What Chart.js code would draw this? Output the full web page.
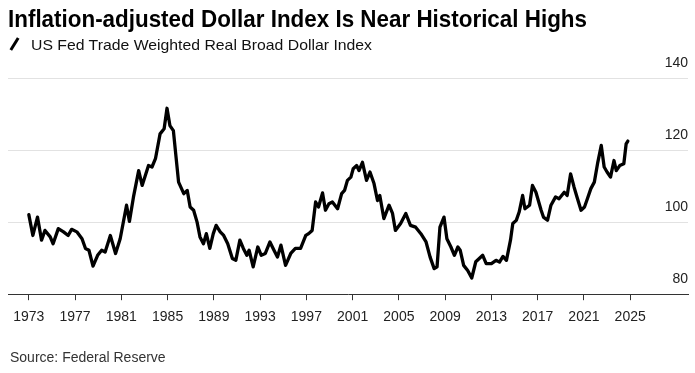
<!DOCTYPE html>
<html>
<head>
<meta charset="utf-8">
<script src="https://cdn.jsdelivr.net/npm/chart.js@4.4.1/dist/chart.umd.min.js"></script>
<style>
  body { margin: 0; background: #fff; }
  #wrap { position: relative; width: 695px; height: 373px; overflow: hidden; font-family: "Liberation Sans", Arial, sans-serif; }
  #chart { position: absolute; left: 0; top: 0; }
  .txt { position: absolute; white-space: nowrap; display: inline-block; transform-origin: 0 0; }
  #title { left: 8px; top: 6.7px; font-size: 24px; line-height: 24px; font-weight: bold; color: #000; }
  #subtitle { left: 31px; top: 37.3px; font-size: 15px; line-height: 15px; color: #111; }
  #slash { position: absolute; left: 13px; top: 37px; width: 3px; height: 14px; background: #000; transform: rotate(32deg); }
  #source { left: 10px; top: 350px; font-size: 14px; line-height: 14px; color: #333; }
</style>
</head>
<body>
<div id="wrap">
  <canvas id="chart" width="695" height="373"></canvas>
  <div id="title" class="txt">Inflation-adjusted Dollar Index Is Near Historical Highs</div>
  <div id="slash"></div>
  <div id="subtitle" class="txt">US Fed Trade Weighted Real Broad Dollar Index</div>
  <div id="source" class="txt">Source: Federal Reserve</div>
</div>
<script>
// values (year as decimal, index level)
var years = [
  1973.0, 1973.35, 1973.75, 1974.1, 1974.4, 1974.85, 1975.1, 1975.55, 1976.0, 1976.4,
  1976.7, 1977.15, 1977.6, 1977.9, 1978.2, 1978.55, 1978.95, 1979.3, 1979.6, 1980.05,
  1980.5, 1980.9, 1981.45, 1981.7, 1982.05, 1982.5, 1982.8, 1983.35, 1983.65, 1983.95,
  1984.35, 1984.7, 1984.95, 1985.2, 1985.5, 1985.7, 1985.95, 1986.4, 1986.7, 1986.95,
  1987.25, 1987.55, 1987.8, 1988.1, 1988.35, 1988.65, 1988.95, 1989.2, 1989.55, 1989.85,
  1990.2, 1990.6, 1990.9, 1991.25, 1991.55, 1991.85, 1992.05, 1992.4, 1992.8, 1993.1,
  1993.45, 1993.85, 1994.2, 1994.5, 1994.8, 1995.2, 1995.65, 1996.05, 1996.5, 1996.95,
  1997.2, 1997.5, 1997.8, 1998.05, 1998.4, 1998.65, 1998.95, 1999.25, 1999.7, 2000.05,
  2000.3, 2000.55, 2000.85, 2001.05, 2001.35, 2001.55, 2001.85, 2002.2, 2002.5, 2002.85,
  2003.15, 2003.35, 2003.7, 2004.15, 2004.45, 2004.7, 2005.15, 2005.6, 2006.0, 2006.45,
  2006.9, 2007.35, 2007.7, 2008.05, 2008.3, 2008.55, 2008.9, 2009.15, 2009.5, 2009.8,
  2010.1, 2010.3, 2010.6, 2010.95, 2011.3, 2011.65, 2011.95, 2012.25, 2012.55, 2013.0,
  2013.4, 2013.7, 2014.0, 2014.3, 2014.65, 2014.85, 2015.15, 2015.4, 2015.7, 2015.9,
  2016.3, 2016.55, 2016.85, 2017.3, 2017.5, 2017.85, 2018.15, 2018.55, 2018.85, 2019.3,
  2019.55, 2019.85, 2020.15, 2020.4, 2020.75, 2021.05, 2021.3, 2021.6, 2021.9, 2022.2,
  2022.5, 2022.75, 2023.0, 2023.3, 2023.6, 2023.8, 2024.1, 2024.45, 2024.65, 2024.8
];
var values = [
  102.1, 96.3, 101.4, 95.0, 97.7, 95.9, 94.0, 98.2, 97.3, 96.3,
  98.0, 97.3, 95.4, 92.7, 92.2, 87.8, 90.8, 92.2, 91.7, 96.3,
  91.3, 95.4, 104.7, 100.2, 107.0, 114.3, 110.2, 115.7, 115.3, 117.6,
  124.5, 125.9, 131.6, 126.8, 125.4, 119.0, 111.1, 107.9, 108.8, 104.2,
  103.3, 100.0, 95.9, 94.0, 96.8, 92.7, 96.8, 99.1, 97.3, 96.3,
  94.0, 89.9, 89.4, 95.0, 92.7, 90.8, 92.2, 87.6, 93.1, 90.8,
  91.3, 94.5, 92.2, 90.3, 93.6, 88.0, 91.3, 92.7, 92.7, 96.3,
  96.8, 97.7, 105.6, 104.2, 108.1, 103.3, 105.1, 105.6, 103.7, 107.9,
  108.8, 111.6, 112.5, 114.8, 115.7, 114.3, 116.6, 111.6, 113.9, 110.7,
  106.0, 107.4, 101.0, 104.7, 102.4, 97.7, 99.6, 102.4, 99.1, 98.6,
  96.8, 94.5, 90.3, 87.1, 87.6, 98.6, 101.4, 95.4, 93.1, 90.8,
  93.1, 92.2, 88.0, 86.6, 84.5, 89.0, 89.9, 90.8, 88.5, 88.5,
  89.4, 88.9, 90.5, 89.4, 95.0, 99.6, 100.5, 102.8, 107.4, 103.7,
  104.7, 110.2, 108.3, 103.3, 101.4, 100.5, 104.7, 107.0, 106.5, 108.3,
  107.4, 113.4, 109.7, 107.0, 103.3, 104.2, 106.5, 109.3, 111.1, 116.6,
  121.3, 115.3, 113.9, 112.5, 117.1, 114.3, 115.7, 116.2, 121.7, 122.5
];
var tickYears = [1973, 1977, 1981, 1985, 1989, 1993, 1997, 2001, 2005, 2009, 2013, 2017, 2021, 2025];
var yTicks = [80, 100, 120, 140];

var fontFamily = "'Liberation Sans', Arial, sans-serif";

function fitWidth(id, target) {
  var el = document.getElementById(id);
  var w = el.getBoundingClientRect().width;
  el.style.transform = "scaleX(" + (target / w) + ")";
}

function drawChart() {
  var points = [];
  for (var i = 0; i < years.length; i++) {
    points.push({ x: years[i], y: values[i] });
  }

  var config = {
    type: 'line',
    data: {
      datasets: [{
        data: points,
        borderColor: '#000',
        borderWidth: 3.3,
        pointRadius: 0,
        tension: 0,
        borderJoinStyle: 'round',
        borderCapStyle: 'round'
      }]
    },
    options: {
      responsive: false,
      animation: false,
      layout: { padding: { left: 8, right: 7, top: 78, bottom: 38 } },
      plugins: { legend: { display: false }, tooltip: { enabled: false } },
      scales: {
        x: {
          type: 'linear',
          min: 1971.2,
          max: 2030,
          afterBuildTicks: function(scale) {
            scale.ticks = tickYears.map(function(v) { return { value: v }; });
          },
          grid: { drawOnChartArea: false, drawTicks: true, tickLength: 6, color: '#333' },
          border: { display: true, color: '#333', width: 1 },
          ticks: {
            autoSkip: false, maxRotation: 0, padding: 9, color: '#222',
            font: { family: fontFamily, size: 14 },
            callback: function(v) { return String(v); }
          }
        },
        y: {
          position: 'right',
          min: 80,
          max: 140,
          afterBuildTicks: function(scale) {
            scale.ticks = yTicks.map(function(v) { return { value: v }; });
          },
          grid: {
            drawTicks: false,
            color: function(ctx) { return ctx.tick && ctx.tick.value === 80 ? 'rgba(0,0,0,0)' : '#e2e2e2'; }
          },
          border: { display: false },
          ticks: {
            mirror: true, padding: 0, labelOffset: -15, color: '#222',
            font: { family: fontFamily, size: 14 }
          }
        }
      }
    }
  };

  new Chart(document.getElementById("chart").getContext("2d"), config);
}

function load() {
  fitWidth("title", 579);
  fitWidth("subtitle", 341);
  drawChart();
}

document.addEventListener("DOMContentLoaded", load, false);
</script>
</body>
</html>
